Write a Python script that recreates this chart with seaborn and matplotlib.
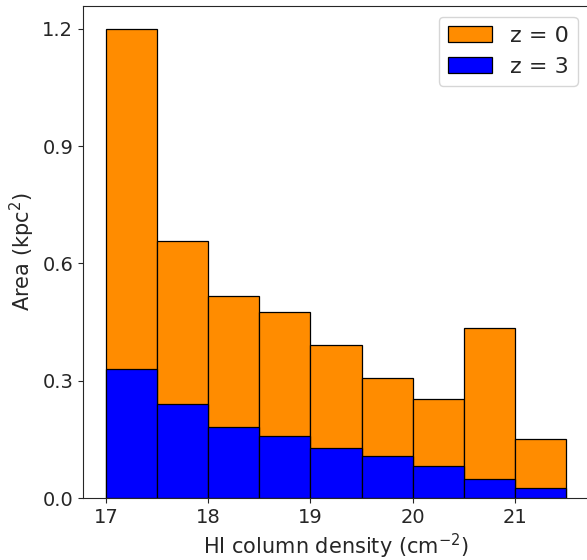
import seaborn as sns
import matplotlib.pyplot as plt
import numpy as np

# Bin edges and per-bin area (kpc^2)
bin_edges = [17.0, 17.5, 18.0, 18.5, 19.0, 19.5, 20.0, 20.5, 21.0, 21.5]
bin_centers = [17.25, 17.75, 18.25, 18.75, 19.25, 19.75, 20.25, 20.75, 21.25]
area_z0 = [1.200, 0.658, 0.517, 0.476, 0.392, 0.307, 0.253, 0.435, 0.151]
area_z3 = [0.330, 0.240, 0.182, 0.159, 0.128, 0.107, 0.082, 0.049, 0.026]

sns.set_style('ticks')
plt.rcParams['font.family'] = ['DejaVu Sans']

fig = plt.figure(figsize=(5.87, 5.6), dpi=100)
ax = fig.add_axes([83 / 587, 62 / 560, 506 / 587, 492.5 / 560])

sns.histplot(x=bin_centers, weights=area_z0, bins=bin_edges, color='darkorange',
             edgecolor='black', linewidth=0.9, alpha=1, label='z = 0', ax=ax)
sns.histplot(x=bin_centers, weights=area_z3, bins=bin_edges, color='blue',
             edgecolor='black', linewidth=0.9, alpha=1, label='z = 3', ax=ax)

ax.set_xlabel('HI column density (cm$^{-2}$)', fontsize=15)
ax.set_ylabel('Area (kpc$^2$)', fontsize=15)
ax.set_yticks(np.arange(0, 1.21, 0.3))
ax.set_xticks([17, 18, 19, 20, 21])
ax.tick_params(labelsize=14)
ax.set_xlim(16.775, 21.725)
ax.set_ylim(0, 1.26)

ax.legend(fontsize=16, loc='upper right')

plt.savefig('out.png', dpi=100)
